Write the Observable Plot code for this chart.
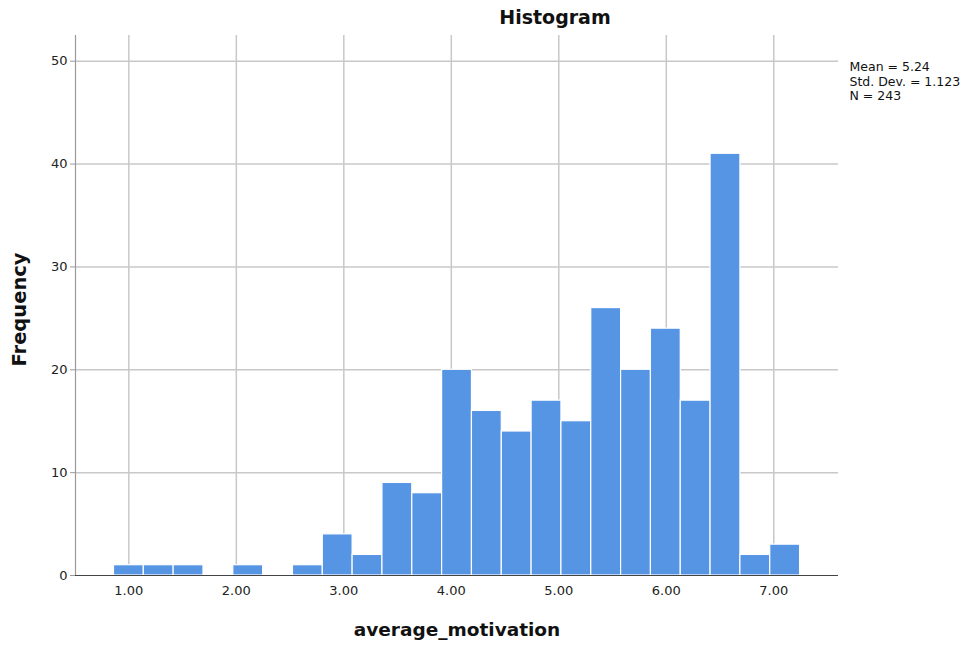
<!DOCTYPE html>
<html>
<head>
<meta charset="utf-8">
<script src="https://cdn.jsdelivr.net/npm/d3@7"></script>
<script src="https://cdn.jsdelivr.net/npm/@observablehq/plot@0.6"></script>
<style>
  html, body { margin: 0; padding: 0; background: #fff; }
  #chart svg { display: block; }
</style>
</head>
<body>
<div id="chart"></div>
<script>
// Histogram bins (from the picture)
const binStart = 0.862;
const binWidth = 0.2775;
const counts = [1, 1, 1, 0, 1, 0, 1, 4, 2, 9, 8, 20, 16, 14, 17, 15, 26, 20, 24, 17, 41, 2, 3];
const xTicks = [1, 2, 3, 4, 5, 6, 7];
const yTicks = [0, 10, 20, 30, 40, 50];
const stats = ["Mean = 5.24", "Std. Dev. = 1.123", "N = 243"];
const title = "Histogram";
const xLabel = "average_motivation";
const yLabel = "Frequency";

const bins = counts.map((c, i) => ({
  x1: binStart + i * binWidth,
  x2: binStart + (i + 1) * binWidth,
  count: c
})).filter(d => d.count > 0);

const xDomain = [0.504, 7.602];
const chart = Plot.plot({
  width: 973,
  height: 645,
  marginTop: 35,
  marginRight: 135,
  marginBottom: 70,
  marginLeft: 75,
  style: { fontFamily: "DejaVu Sans, sans-serif", background: "#fff" },
  x: { domain: xDomain, axis: null },
  y: { domain: [0, 52.5], axis: null },
  marks: [
    Plot.ruleX(xTicks, { stroke: "#c8c8c8", strokeWidth: 1.5 }),
    Plot.ruleY(yTicks.filter(d => d > 0), { stroke: "#c8c8c8", strokeWidth: 1.5 }),
    Plot.rectY(bins, { x1: "x1", x2: "x2", y: "count", fill: "#5595e4", stroke: "#ffffff", strokeWidth: 1.2 }),
    Plot.ruleX([xDomain[0]], { stroke: "#9a9a9a", strokeWidth: 1.2 }),
    Plot.ruleY([0], { stroke: "#444", strokeWidth: 1.2 }),
    Plot.axisY({ ticks: yTicks, tickSize: 5, tickPadding: 3, tickFormat: d => String(d), fontSize: 13, label: null, stroke: "#9a9a9a", color: "#222" }),
    Plot.axisX({ ticks: xTicks, tickSize: 0, tickPadding: 10, tickFormat: d => d.toFixed(2), fontSize: 13, label: null, color: "#222" }),
    Plot.text([yLabel], { frameAnchor: "left", rotate: -90, dx: -56, dy: 4, fontSize: 19.5, fontWeight: "bold", fill: "#111", textAnchor: "middle" }),
    Plot.text([xLabel], { frameAnchor: "bottom", dy: 55, fontSize: 18.5, fontWeight: "bold", fill: "#111", lineAnchor: "middle" }),
    Plot.text([title], { frameAnchor: "top", dx: 98, dy: -18, fontSize: 19, fontWeight: "bold", fill: "#111", lineAnchor: "middle" }),
    Plot.text([stats.join("\n")], { frameAnchor: "top-right", dx: 11, dy: 25, textAnchor: "start", lineAnchor: "top", lineHeight: 1.17, fontSize: 12.5, fill: "#111" })
  ]
});
document.getElementById("chart").appendChild(chart);
</script>
</body>
</html>
